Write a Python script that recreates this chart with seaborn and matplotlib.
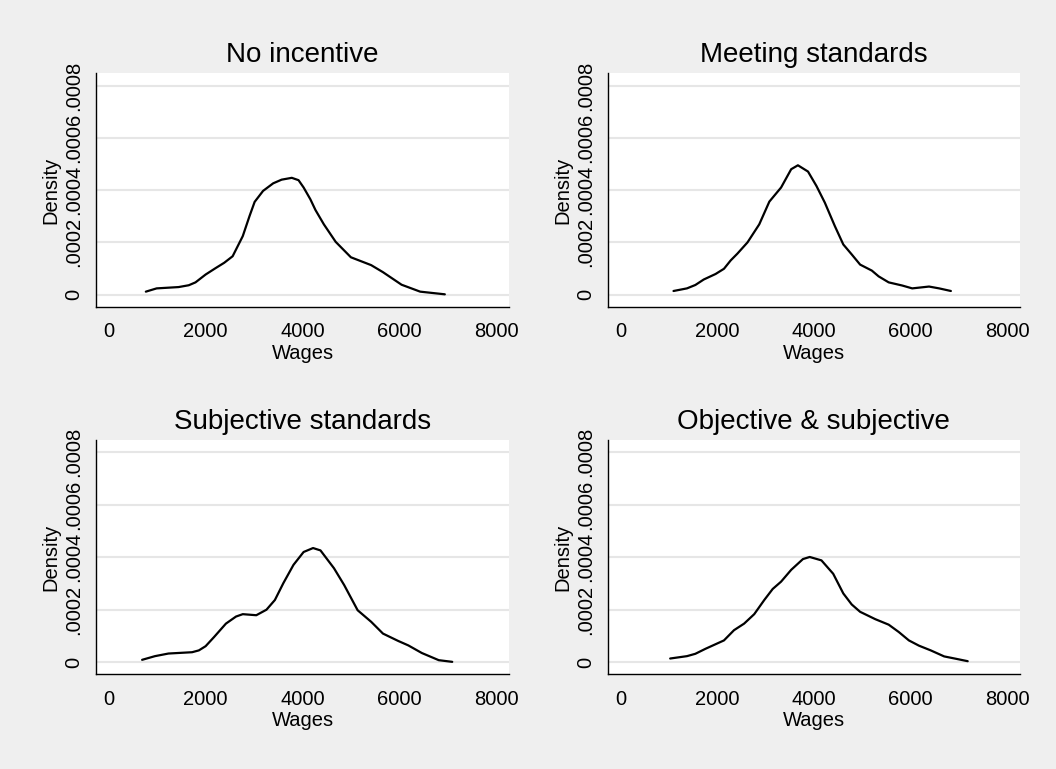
import numpy as np
import pandas as pd
import matplotlib
matplotlib.use("Agg")
import matplotlib.pyplot as plt
import seaborn as sns

# panel titles
titles = ["No incentive", "Meeting standards", "Subjective standards", "Objective & subjective"]

# density curves (wages, density)
no_inc_x = [767, 990, 1443, 1653, 1792, 2001, 2211, 2385, 2559, 2768, 2908, 3013, 3187, 3396,
            3570, 3780, 3919, 4024, 4163, 4268, 4442, 4686, 5000, 5418, 5662, 6046, 6430, 6939]
no_inc_y = [1.15e-5, 2.4e-5, 2.9e-5, 3.6e-5, 4.7e-5, 7.7e-5, 1.02e-4, 1.22e-4, 1.47e-4, 2.24e-4,
            3.01e-4, 3.55e-4, 3.97e-4, 4.26e-4, 4.40e-4, 4.47e-4, 4.38e-4, 4.10e-4, 3.65e-4,
            3.24e-4, 2.69e-4, 2.02e-4, 1.43e-4, 1.13e-4, 8.6e-5, 3.8e-5, 1.15e-5, 1.3e-6]

meet_x = [1099, 1377, 1551, 1725, 1969, 2143, 2282, 2421, 2630, 2873, 3082, 3325, 3534, 3673,
          3882, 4056, 4230, 4438, 4612, 4786, 4960, 5203, 5343, 5551, 5830, 6038, 6386, 6595, 6838]
meet_y = [1.4e-5, 2.4e-5, 3.7e-5, 5.8e-5, 7.9e-5, 9.9e-5, 1.31e-4, 1.57e-4, 2.0e-4, 2.69e-4,
          3.56e-4, 4.10e-4, 4.80e-4, 4.95e-4, 4.71e-4, 4.16e-4, 3.52e-4, 2.62e-4, 1.92e-4,
          1.54e-4, 1.15e-4, 9.2e-5, 7.0e-5, 4.7e-5, 3.5e-5, 2.4e-5, 3.1e-5, 2.4e-5, 1.4e-5]

subj_x = [690, 955, 1234, 1722, 1862, 2001, 2176, 2420, 2629, 2768, 3047, 3257, 3431, 3605,
          3815, 4024, 4219, 4372, 4651, 4861, 5139, 5418, 5662, 5976, 6185, 6464, 6813, 7092]
subj_y = [9e-6, 2.3e-5, 3.3e-5, 3.8e-5, 4.5e-5, 6.1e-5, 9.6e-5, 1.47e-4, 1.74e-4, 1.83e-4,
          1.79e-4, 2.0e-4, 2.37e-4, 3.01e-4, 3.71e-4, 4.20e-4, 4.35e-4, 4.26e-4, 3.58e-4,
          2.94e-4, 1.98e-4, 1.54e-4, 1.09e-4, 8.1e-5, 6.4e-5, 3.5e-5, 7.7e-6, 1.3e-6]

objsubj_x = [1030, 1377, 1551, 1760, 2143, 2351, 2560, 2769, 2977, 3151, 3325, 3534, 3777, 3917,
             4160, 4403, 4612, 4786, 4960, 5273, 5551, 5760, 5969, 6177, 6421, 6699, 6943, 7186]
objsubj_y = [1.4e-5, 2.3e-5, 3.2e-5, 5.1e-5, 8.3e-5, 1.22e-4, 1.47e-4, 1.83e-4, 2.37e-4, 2.79e-4,
             3.07e-4, 3.52e-4, 3.93e-4, 4.01e-4, 3.88e-4, 3.37e-4, 2.62e-4, 2.20e-4, 1.92e-4,
             1.64e-4, 1.43e-4, 1.15e-4, 8.3e-5, 6.3e-5, 4.5e-5, 2.2e-5, 1.3e-5, 3.8e-6]

x_ticks = [0, 2000, 4000, 6000, 8000]
y_ticks = [0, 0.0002, 0.0004, 0.0006, 0.0008]
y_tick_labels = ["0", ".0002", ".0004", ".0006", ".0008"]

curves = [(no_inc_x, no_inc_y), (meet_x, meet_y), (subj_x, subj_y), (objsubj_x, objsubj_y)]

sns.set_theme(style="white")
plt.rcParams["font.family"] = ["Liberation Sans", "DejaVu Sans"]
plt.rcParams["text.color"] = "black"
plt.rcParams["axes.labelcolor"] = "black"
plt.rcParams["xtick.color"] = "black"
plt.rcParams["ytick.color"] = "black"

bg = "#efefef"
fig = plt.figure(figsize=(10.56, 7.69), dpi=100, facecolor=bg)

# axes boxes in figure fractions
positions = [
    [0.0909, 0.6012, 0.3914, 0.3035],
    [0.5755, 0.6012, 0.3905, 0.3035],
    [0.0909, 0.1232, 0.3914, 0.3047],
    [0.5755, 0.1232, 0.3905, 0.3047],
]

for pos, title, (cx, cy) in zip(positions, titles, curves):
    ax = fig.add_axes(pos)
    ax.set_facecolor("white")
    df = pd.DataFrame({"Wages": cx, "Density": cy})
    for yt in y_ticks:
        ax.axhline(yt, color="#e6e6e6", lw=1.5, zorder=0)
    sns.lineplot(data=df, x="Wages", y="Density", ax=ax, color="black", lw=1.6)
    ax.set_xlim(-262, 8270)
    ax.set_ylim(-4.6e-5, 8.47e-4)
    ax.set_xticks(x_ticks)
    ax.set_xticklabels([str(t) for t in x_ticks])
    ax.set_yticks(y_ticks)
    ax.set_yticklabels(y_tick_labels, rotation=90, va="center")
    ax.tick_params(axis="both", direction="out", length=6, width=1.0, color="#333333",
                   labelsize=14.5, labelcolor="black")
    ax.tick_params(axis="x", pad=5)
    ax.tick_params(axis="y", pad=3)
    for s in ["top", "right"]:
        ax.spines[s].set_visible(False)
    for s in ["left", "bottom"]:
        ax.spines[s].set_color("black")
        ax.spines[s].set_linewidth(1.0)
    ax.set_xlabel("Wages", fontsize=14.5, labelpad=2)
    ax.set_ylabel("Density", fontsize=14.5, labelpad=3)
    ax.set_title(title, fontsize=20, pad=8, color="black")

fig.savefig("out.png", dpi=100, facecolor=bg)
